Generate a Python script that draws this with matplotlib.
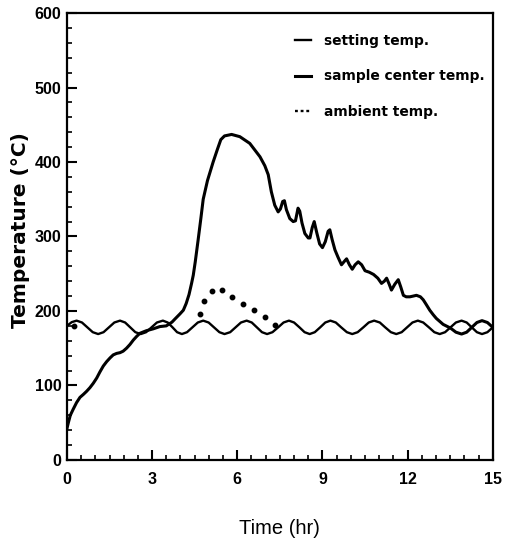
import matplotlib
matplotlib.use("Agg")
import matplotlib.pyplot as plt
from matplotlib.ticker import MultipleLocator
from matplotlib.lines import Line2D

# setting temperature (hr, degC)
setting_time = [0.0, 0.17, 0.34, 0.53, 0.72, 0.91, 1.1, 1.29, 1.48, 1.67, 1.87, 2.05, 2.23, 2.41, 2.6,
                2.79, 2.98, 3.17, 3.38, 3.55, 3.72, 3.88, 4.05, 4.23, 4.42, 4.61, 4.8, 4.99, 5.18, 5.37,
                5.55, 5.75, 5.94, 6.13, 6.33, 6.51, 6.69, 6.87, 7.05, 7.24, 7.44, 7.63, 7.82, 8.0, 8.19,
                8.37, 8.55, 8.73, 8.92, 9.1, 9.28, 9.47, 9.66, 9.86, 10.05, 10.24, 10.44, 10.63, 10.82,
                11.02, 11.21, 11.41, 11.6, 11.79, 11.98, 12.17, 12.36, 12.55, 12.75, 12.94, 13.13, 13.32,
                13.51, 13.7, 13.9, 14.08, 14.26, 14.44, 14.62, 14.81, 15.0]
setting_temp = [180, 185, 187, 184.5, 178, 171.5, 169, 171.5, 178, 184.5, 187, 184.5, 178, 171.5, 169,
                171.5, 178, 184.5, 187, 184.5, 178, 171.5, 169, 171.5, 178, 184.5, 187, 184.5, 178, 171.5,
                169, 171.5, 178, 184.5, 187, 184.5, 178, 171.5, 169, 171.5, 178, 184.5, 187, 184.5, 178,
                171.5, 169, 171.5, 178, 184.5, 187, 184.5, 178, 171.5, 169, 171.5, 178, 184.5, 187,
                184.5, 178, 171.5, 169, 171.5, 178, 184.5, 187, 184.5, 178, 171.5, 169, 171.5,
                178, 184.5, 187, 184.5, 178, 171.5, 169, 171.5, 178]

# sample center temperature
center_time = [0.0, 0.05, 0.12, 0.22, 0.34, 0.46, 0.58, 0.69, 0.81, 0.93, 1.05, 1.16, 1.28, 1.4, 1.52,
               1.63, 1.75, 1.87, 1.98, 2.1, 2.22, 2.34, 2.46, 2.57, 2.7, 2.8, 3.04, 3.27, 3.5, 3.7, 3.8,
               3.98, 4.1, 4.2, 4.3, 4.39, 4.45, 4.52, 4.62, 4.72, 4.8, 4.95, 5.15, 5.3, 5.42, 5.55, 5.8,
               6.09, 6.44, 6.8, 6.97, 7.09, 7.2, 7.32, 7.44, 7.52, 7.6, 7.66, 7.73,
               7.85, 7.97, 8.05, 8.14, 8.2, 8.28, 8.38, 8.5, 8.56, 8.64, 8.71, 8.8, 8.9, 9.0, 9.1, 9.2,
               9.26, 9.34, 9.44, 9.55, 9.67, 9.78, 9.85, 9.95, 10.05, 10.15, 10.26, 10.38, 10.5, 10.65,
               10.8, 10.95, 11.08, 11.18, 11.26, 11.35, 11.43, 11.55, 11.67, 11.76, 11.85, 11.95, 12.08,
               12.2, 12.31, 12.45, 12.55, 12.65, 12.78, 12.9, 13.01, 13.13, 13.25, 13.38, 13.51, 13.7,
               13.9, 14.08, 14.26, 14.44, 14.62, 14.81, 15.0]
center_temp = [42, 50, 60, 68, 77, 84, 88, 92, 97, 103, 110, 118, 126, 132, 137,
               141, 143, 144, 146, 150, 155, 161, 166, 170, 172, 173.5, 176, 179, 180, 185, 189,
               196, 201, 210, 222, 237, 248, 266, 295, 325, 350, 375, 400, 417, 430, 435, 437,
               434, 425, 407, 395, 383, 360, 342, 333, 337, 347, 348, 336,
               324, 320, 321, 338, 334, 318, 304, 298, 298, 312, 320, 305, 290, 285, 293, 307,
               309, 296, 282, 272, 262, 267, 270, 262, 256, 262, 266, 262, 254, 252,
               249, 244, 237, 240, 244, 236, 228, 236, 242, 232, 221, 219, 219,
               220, 221, 219, 215, 209, 201, 195, 190, 186, 182, 179.5, 177, 171.5,
               169, 171.5, 178, 184.5, 187, 184.5, 178]

# ambient temperature (visible dots)
ambient_time = [0.25, 4.68, 4.84, 5.1, 5.47, 5.83, 6.19, 6.6, 6.97, 7.32]
ambient_temp = [180, 196, 213, 227, 228, 219, 209, 201, 192, 181]

x_ticks = [0, 3, 6, 9, 12, 15]
y_ticks = [0, 100, 200, 300, 400, 500, 600]
legend_labels = ["setting temp.", "sample center temp.", "ambient temp."]

fig = plt.figure(figsize=(5.07, 5.43), dpi=100)
ax = fig.add_axes([0.132, 0.153, 0.840, 0.823])

ax.plot(setting_time, setting_temp, color="black", lw=1.7)
ax.plot(center_time, center_temp, color="black", lw=2.2)
ax.plot(ambient_time, ambient_temp, linestyle="none", marker="o", ms=3.2, color="black")

ax.set_xlim(0, 15)
ax.set_ylim(0, 600)
ax.set_xticks(x_ticks)
ax.set_yticks(y_ticks)
ax.xaxis.set_minor_locator(MultipleLocator(0.5))
ax.yaxis.set_minor_locator(MultipleLocator(20))
ax.tick_params(which="both", direction="in", top=False, right=False)
ax.tick_params(which="major", length=7, width=1.5)
ax.tick_params(which="minor", length=3.5, width=1.2)
ax.tick_params(axis="x", which="major", pad=9)
ax.tick_params(axis="y", which="major", pad=4)
for lab in ax.get_xticklabels() + ax.get_yticklabels():
    lab.set_family("Liberation Sans")
    lab.set_fontsize(11.5)
    lab.set_fontweight("bold")
for s in ax.spines.values():
    s.set_linewidth(1.6)

ax.set_xlabel("Time (hr)", fontsize=14.5, family="Liberation Sans", labelpad=23)
ax.set_ylabel("Temperature (\u00b0C)", fontsize=14.5, fontweight="bold",
              va="center", ha="center")
ax.yaxis.set_label_coords(-0.11, 0.515)

handles = [Line2D([], [], color="black", lw=1.7),
           Line2D([], [], color="black", lw=2.2),
           Line2D([], [], color="black", lw=1.7, linestyle=(0, (1.2, 1.2)))]
ax.legend(handles, legend_labels,
          loc="upper left", frameon=False, prop={"weight": "bold", "size": 9.9},
          handlelength=1.2, handletextpad=0.9, labelspacing=1.55,
          bbox_to_anchor=(0.522, 0.965), borderaxespad=0.0)

fig.savefig("out.png", dpi=100)
